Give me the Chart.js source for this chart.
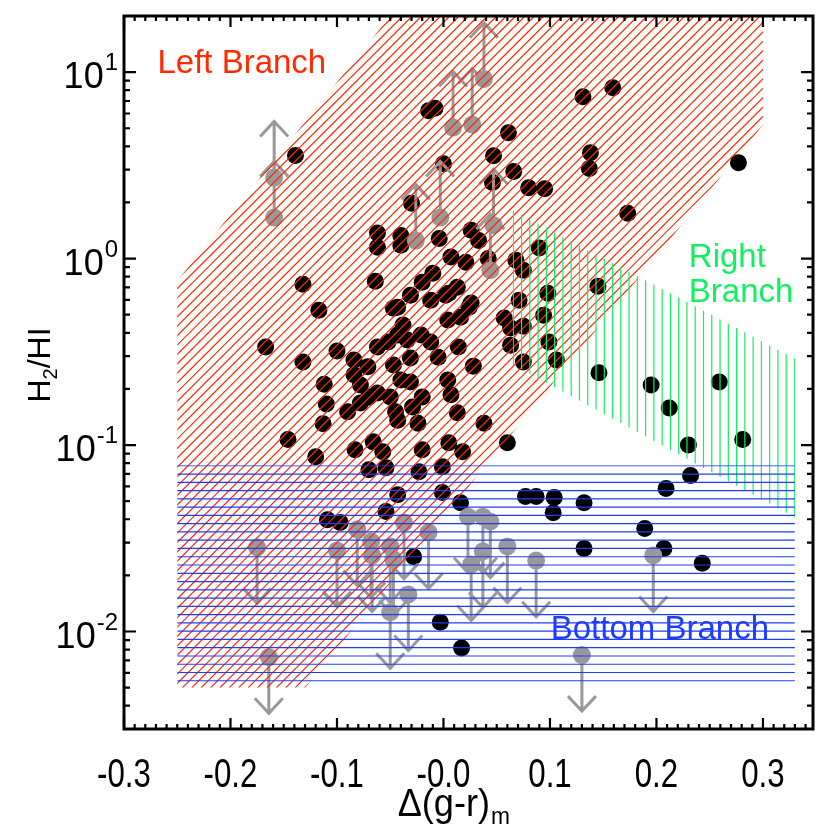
<!DOCTYPE html>
<html>
<head>
<meta charset="utf-8">
<style>
  html, body { margin: 0; padding: 0; background: #fff; }
  #wrap { width: 830px; height: 830px; }
</style>
<script src="https://cdn.jsdelivr.net/npm/chart.js@4.4.1/dist/chart.umd.min.js"></script>
</head>
<body>
<div id="wrap"><canvas id="chart" width="830" height="830"></canvas></div>
<script>
// detections (black dots)
const detX = [-0.014, -0.008, -0.139, 0.000, -0.030, -0.062, -0.062, -0.040, -0.040, -0.004,
  0.026, 0.033, 0.061, 0.047, 0.066, 0.046, 0.080, 0.095, 0.131, 0.159,
  0.138, 0.137, 0.277, 0.173, 0.090, 0.007, 0.021, 0.042, 0.068, 0.075,
  -0.010, -0.020, -0.031, -0.043, 0.005, 0.013, 0.026, 0.071, -0.012, -0.132,
  -0.064, -0.117, -0.047, -0.167, -0.132, -0.100, -0.112, -0.110, -0.113, -0.146,
  -0.120, -0.090, -0.083, -0.066, -0.057, -0.070, -0.054, -0.023, -0.020, -0.001,
  0.005, 0.018, -0.043, -0.001, 0.016, 0.013, -0.043, -0.024, -0.029, -0.020,
  -0.050, -0.070, -0.062, -0.084, -0.078, -0.071, -0.084, -0.047, -0.040, -0.031,
  -0.062, -0.052, -0.043, -0.034, -0.021, -0.012, -0.005, -0.038, 0.002, 0.004,
  0.016, 0.024, 0.014, 0.004, 0.007, 0.028, -0.078, -0.045, 0.057, 0.063,
  0.075, 0.063, 0.075, -0.031, 0.038, 0.060, 0.077, 0.087, 0.104, 0.103,
  0.132, 0.132, 0.189, 0.207, 0.209, 0.232, 0.243, -0.003, 0.017, 0.098,
  0.094, 0.099, 0.106, 0.145, 0.146, 0.195, 0.259, 0.212, 0.230, 0.281,
  -0.109, -0.097, -0.054, -0.028];
const detY = [6.2, 6.4, 3.57, 3.23, 1.98, 1.37, 1.15, 1.33, 1.18, 1.28,
  1.42, 1.25, 4.73, 3.56, 2.93, 2.56, 2.40, 2.37, 7.38, 8.24,
  3.70, 3.04, 3.27, 1.75, 1.14, 1.02, 0.957, 1.00, 0.98, 0.866,
  0.834, 0.746, 0.636, 0.549, 0.652, 0.702, 0.577, 0.598, 0.598, 0.729,
  0.756, 0.529, 0.542, 0.336, 0.279, 0.319, 0.212, 0.166, 0.130, 0.107,
  0.0865, 0.151, 0.0944, 0.104, 0.092, 0.0738, 0.0756, 0.072, 0.0944, 0.0766,
  0.103, 0.092, 0.0542, 0.0556, 0.0491, 0.149, 0.136, 0.131, 0.160, 0.181,
  0.181, 0.181, 0.190, 0.238, 0.210, 0.263, 0.286, 0.269, 0.223, 0.218,
  0.336, 0.357, 0.389, 0.366, 0.389, 0.357, 0.296, 0.440, 0.636, 0.468,
  0.485, 0.549, 0.336, 0.223, 0.186, 0.265, 0.168, 0.151, 0.480, 0.424,
  0.434, 0.343, 0.279, 0.293, 0.131, 0.103, 0.053, 0.053, 0.0523, 0.0434,
  0.0491, 0.0279, 0.0357, 0.0279, 0.0584, 0.0686, 0.0232, 0.0112, 0.00815, 0.652,
  0.497, 0.357, 0.286, 0.711, 0.244, 0.210, 0.218, 0.158, 0.100, 0.107,
  0.0398, 0.0384, 0.044, 0.0252];

// lower limits (grey, arrow up)
const loLimX = [-0.159, -0.159, 0.009, 0.027, 0.038, -0.003, -0.026, 0.047, 0.044];
const loLimY = [1.66, 2.72, 5.04, 5.23, 9.2, 1.66, 1.25, 1.51, 0.866];
// upper limits (grey, arrow down)
const upLimX = [-0.175, -0.164, -0.100, -0.081, -0.068, -0.067, -0.050, -0.047, -0.037, -0.014,
  -0.033, -0.050, 0.023, 0.037, 0.044, 0.037, 0.026, 0.060, 0.087, 0.197, 0.130];
const upLimY = [0.0283, 0.00729, 0.0272, 0.0353, 0.0304, 0.0256, 0.0286, 0.0244, 0.0384, 0.0340,
  0.0158, 0.0127, 0.0413, 0.0413, 0.0389, 0.0269, 0.0229, 0.0286, 0.0240, 0.0256, 0.00748];

// branch regions
const leftBranchX = [-0.25, -0.25, -0.05, 0.30, 0.30, -0.13];
const leftBranchY = [0.005, 0.76, 20, 20, 5.2, 0.005];
const rightBranchX = [0.065, 0.33, 0.33, 0.065];
const rightBranchY = [1.81, 0.29, 0.041, 0.27];
const bottomBranchX = [-0.25, 0.33, 0.33, -0.25];
const bottomBranchY = [0.0054, 0.0054, 0.078, 0.078];

const xTicks = [-0.3, -0.2, -0.1, 0, 0.1, 0.2, 0.3];
const xTickLabels = ['-0.3', '-0.2', '-0.1', '-0.0', '0.1', '0.2', '0.3'];
const yTicks = [0.01, 0.1, 1, 10];
const yTickExp = ['-2', '-1', '0', '1'];

const GRAY = '#999999';
const RED = '#ff2a00';
const GREEN = '#10f060';
const BLUE = '#1e3cff';
const FONT = '"Liberation Sans", Arial, Helvetica, sans-serif';

const pts = (xs, ys) => xs.map((v, i) => ({x: v, y: ys[i]}));

function hatch(ctx, sx, sy, xs, ys, color, kind, step) {
  const P = xs.map((v, i) => [sx.getPixelForValue(v), sy.getPixelForValue(ys[i])]);
  const L = Math.min(...P.map(p => p[0])), R = Math.max(...P.map(p => p[0]));
  const T = Math.min(...P.map(p => p[1])), B = Math.max(...P.map(p => p[1]));
  ctx.save();
  ctx.beginPath();
  P.forEach((p, i) => i ? ctx.lineTo(p[0], p[1]) : ctx.moveTo(p[0], p[1]));
  ctx.closePath();
  ctx.clip();
  ctx.strokeStyle = color;
  ctx.lineWidth = 1.2;
  ctx.beginPath();
  if (kind === 'h') {
    for (let yy = T + 0.6; yy <= B; yy += step) { ctx.moveTo(L, yy); ctx.lineTo(R, yy); }
  } else if (kind === 'v') {
    for (let xx = L + 0.6; xx <= R; xx += step) { ctx.moveTo(xx, T); ctx.lineTo(xx, B); }
  } else {
    for (let c = L + T; c <= R + B; c += step) { ctx.moveTo(c - B, B); ctx.lineTo(c - T, T); }
  }
  ctx.stroke();
  ctx.restore();
}

function squeezed(ctx, s, X, Y, size, sx, align) {
  ctx.save();
  ctx.font = size + 'px ' + FONT;
  ctx.translate(X, Y);
  ctx.scale(sx, 1);
  ctx.textAlign = align;
  ctx.fillText(s, 0, 0);
  ctx.restore();
}

const decor = {
  id: 'decor',
  beforeDatasetDraw(chart, args) {
    if (args.index !== 0) return;
    const {ctx, scales: {x, y}} = chart;
    ctx.save();
    ctx.strokeStyle = GRAY;
    ctx.lineWidth = 3;
    const arrow = (vx, vy, f) => {
      const X = x.getPixelForValue(vx), Y0 = y.getPixelForValue(vy), Y1 = y.getPixelForValue(vy * f);
      const d = Y1 > Y0 ? -1 : 1;
      ctx.beginPath();
      ctx.moveTo(X, Y0); ctx.lineTo(X, Y1);
      ctx.moveTo(X - 14, Y1 + d * 15); ctx.lineTo(X, Y1); ctx.lineTo(X + 14, Y1 + d * 15);
      ctx.stroke();
    };
    loLimX.forEach((v, i) => arrow(v, loLimY[i], 2));
    upLimX.forEach((v, i) => arrow(v, upLimY[i], 0.5));
    ctx.restore();
  },
  afterDatasetsDraw(chart) {
    const {ctx, scales: {x, y}} = chart;
    hatch(ctx, x, y, leftBranchX, leftBranchY, RED, 'd', 9.4);
    hatch(ctx, x, y, rightBranchX, rightBranchY, GREEN, 'v', 8.27);
    hatch(ctx, x, y, bottomBranchX, bottomBranchY, BLUE, 'h', 8.27);

    ctx.save();
    ctx.font = '33px ' + FONT;
    ctx.textAlign = 'left';
    ctx.fillStyle = RED;
    ctx.fillText('Left Branch', x.getPixelForValue(-0.2686), y.getPixelForValue(9.9));
    ctx.fillStyle = GREEN;
    ctx.fillText('Right', x.getPixelForValue(0.2304), y.getPixelForValue(0.898));
    ctx.fillText('Branch', x.getPixelForValue(0.2304), y.getPixelForValue(0.584));
    ctx.fillStyle = BLUE;
    ctx.fillText('Bottom Branch', x.getPixelForValue(0.1007), y.getPixelForValue(0.0091));
    ctx.restore();
  },
  afterDraw(chart) {
    const {ctx, chartArea: a, scales: {x, y}} = chart;
    ctx.save();
    ctx.strokeStyle = '#000';
    // ticks on all four sides, pointing inward
    ctx.beginPath();
    for (let i = -30; i <= 34; i++) {
      const X = x.getPixelForValue(i / 100);
      const len = i % 10 === 0 ? 11 : 5;
      ctx.moveTo(X, a.bottom); ctx.lineTo(X, a.bottom - len);
      ctx.moveTo(X, a.top); ctx.lineTo(X, a.top + len);
    }
    ctx.lineWidth = 2.2;
    ctx.stroke();
    ctx.beginPath();
    for (let n = -3; n <= 1; n++) {
      for (let k = 1; k <= 9; k++) {
        const v = k * Math.pow(10, n);
        if (v < 0.003 || v > 20) continue;
        const Y = y.getPixelForValue(v);
        const len = k === 1 ? 12 : 6;
        ctx.moveTo(a.left, Y); ctx.lineTo(a.left + len, Y);
        ctx.moveTo(a.right, Y); ctx.lineTo(a.right - len, Y);
      }
    }
    ctx.stroke();
    ctx.lineWidth = 3;
    ctx.strokeRect(a.left, a.top, a.right - a.left, a.bottom - a.top);

    // tick labels
    ctx.fillStyle = '#000';
    ctx.textBaseline = 'alphabetic';
    xTicks.forEach((v, i) => squeezed(ctx, xTickLabels[i], x.getPixelForValue(v), a.bottom + 58, 40, 0.78, 'center'));
    yTicks.forEach((v, i) => {
      const Y = y.getPixelForValue(v);
      ctx.font = '24px ' + FONT;
      ctx.textAlign = 'right';
      const ew = ctx.measureText(yTickExp[i]).width;
      ctx.fillText(yTickExp[i], 118, Y - 2);
      ctx.font = '36px ' + FONT;
      ctx.fillText('10', 118 - ew - 1, Y + 16);
    });

    // axis titles
    squeezed(ctx, '\u0394(g-r)', 490, 816, 38, 0.95, 'right');
    squeezed(ctx, 'm', 491, 824, 24, 0.95, 'left');
    ctx.save();
    ctx.translate(50, 365);
    ctx.rotate(-Math.PI / 2);
    ctx.font = '32px ' + FONT;
    ctx.textAlign = 'left';
    const w1 = ctx.measureText('H').width;
    ctx.font = '20px ' + FONT;
    const w2 = ctx.measureText('2').width;
    ctx.font = '32px ' + FONT;
    const w3 = ctx.measureText('/HI').width;
    const x0 = -(w1 + w2 + w3) / 2;
    ctx.fillText('H', x0, 0);
    ctx.fillText('/HI', x0 + w1 + w2, 0);
    ctx.font = '20px ' + FONT;
    ctx.fillText('2', x0 + w1, 7);
    ctx.restore();
    ctx.restore();
  }
};

new Chart(document.getElementById('chart'), {
  type: 'scatter',
  data: {
    datasets: [
      {
        data: pts(loLimX, loLimY).concat(pts(upLimX, upLimY)),
        pointRadius: 9, pointBackgroundColor: GRAY, pointBorderWidth: 0, pointBorderColor: GRAY
      },
      {
        data: pts(detX, detY),
        pointRadius: 8.5, pointBackgroundColor: '#000', pointBorderWidth: 0, pointBorderColor: '#000'
      }
    ]
  },
  options: {
    responsive: false,
    animation: false,
    events: [],
    layout: { padding: { top: 16, right: 17, left: 0, bottom: 0 } },
    plugins: { legend: { display: false }, tooltip: { enabled: false } },
    scales: {
      x: {
        type: 'linear', min: -0.3, max: 0.347,
        ticks: { display: false }, grid: { display: false }, border: { display: false },
        afterFit(s) { s.height = 101; }
      },
      y: {
        type: 'logarithmic', min: 0.003, max: 20,
        ticks: { display: false }, grid: { display: false }, border: { display: false },
        afterFit(s) { s.width = 124; }
      }
    }
  },
  plugins: [decor]
});
</script>
</body>
</html>
